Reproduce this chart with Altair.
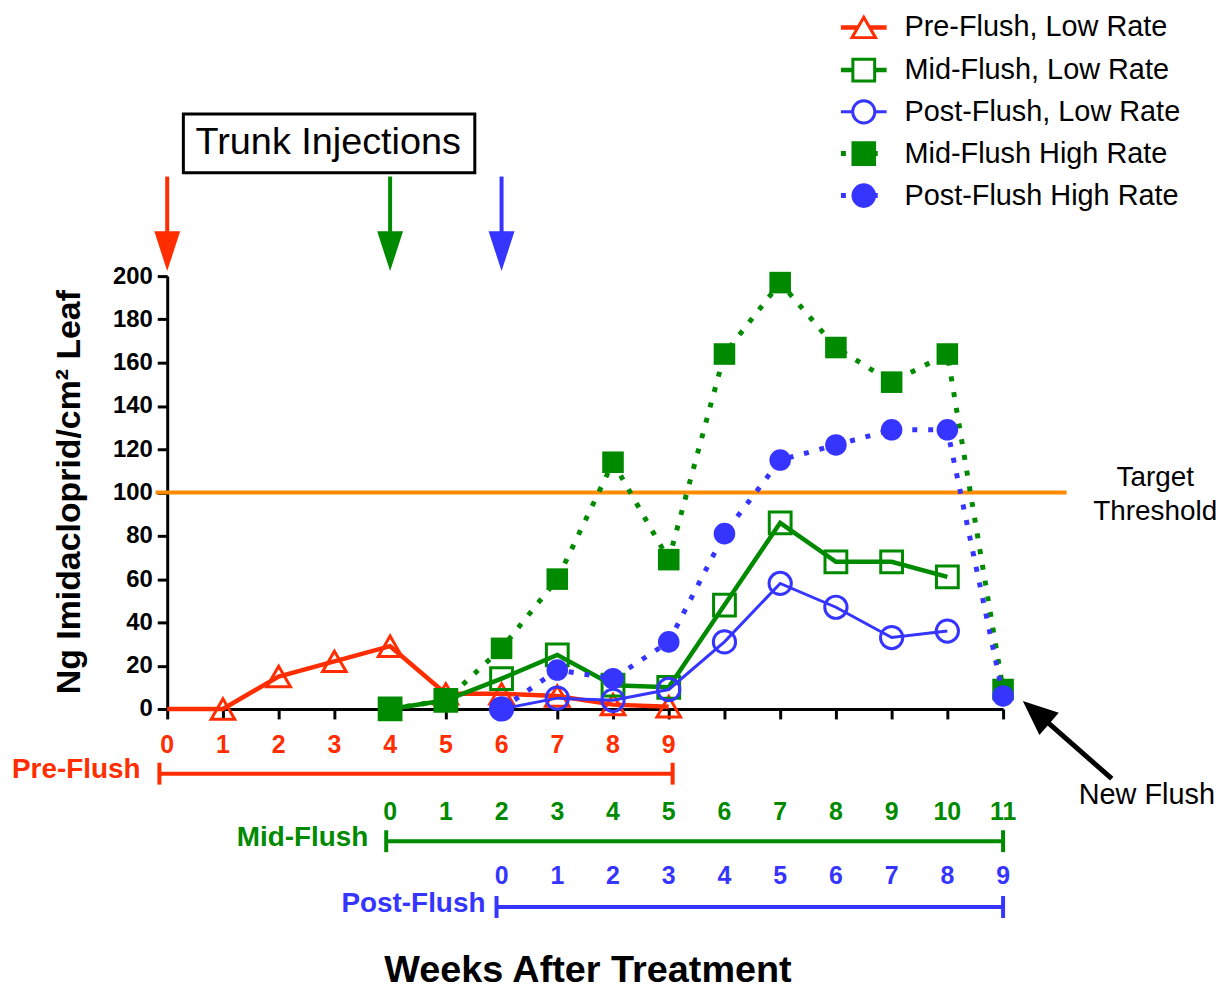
import altair as alt
import pandas as pd

# ---------------- data ----------------
pre_weeks = list(range(0, 10))
pre_low = [0, 0, 15, 22, 29, 7, 7, 6, 2, 1]
mid_low_weeks = list(range(4, 15))
mid_low = [0, 4, 14, 25, 11, 10, 48, 86, 68, 68, 61]
post_low_weeks = list(range(6, 15))
post_low = [0, 5, 4, 9, 31, 58, 47, 33, 36]
mid_high_weeks = list(range(4, 16))
mid_high = [0, 4, 28, 60, 114, 69, 164, 197, 167, 151, 164, 9]
post_high_weeks = list(range(6, 16))
post_high = [0, 18, 14, 31, 81, 115, 122, 129, 129, 6]

series_names = ["Pre-Flush, Low Rate", "Mid-Flush, Low Rate", "Post-Flush, Low Rate",
                "Mid-Flush High Rate", "Post-Flush High Rate"]
series_weeks = [pre_weeks, mid_low_weeks, post_low_weeks, mid_high_weeks, post_high_weeks]
series_values = [pre_low, mid_low, post_low, mid_high, post_high]

y_ticks = list(range(0, 201, 20))
x_ticks = list(range(0, 16))
threshold = 100

pre_row_weeks = list(range(0, 10))
pre_row_labels = [str(i) for i in range(0, 10)]
mid_row_weeks = list(range(4, 16))
mid_row_labels = [str(i) for i in range(0, 12)]
post_row_weeks = list(range(6, 16))
post_row_labels = [str(i) for i in range(0, 10)]

injection_weeks = [0, 4, 6]

# ---------------- styles ----------------
RED = "#ff2d00"
GREEN = "#008a00"
BLUE = "#3535ff"
ORANGE = "#ff8c00"
FONT = "Liberation Sans"

styles = [
    dict(color=RED, shape="triangle-up", filled=False, dash=None, lw=4.5, size=560),
    dict(color=GREEN, shape="square", filled=False, dash=None, lw=4.5, size=480),
    dict(color=BLUE, shape="circle", filled=False, dash=None, lw=3, size=500),
    dict(color=GREEN, shape="square", filled=True, dash=[5, 11], lw=5, size=470),
    dict(color=BLUE, shape="circle", filled=True, dash=[5, 11], lw=5, size=470),
]
injection_colors = [RED, GREEN, BLUE]

XS = alt.Scale(domain=[0, 15], nice=False, zero=False)
YS = alt.Scale(domain=[0, 200], nice=False, zero=False)

x_axis = alt.Axis(values=x_ticks, labels=False, ticks=True, tickSize=10, tickWidth=3,
                  tickColor="black", domainColor="black", domainWidth=3, grid=False, title=None)
y_axis = alt.Axis(values=y_ticks, labelFont=FONT, labelFontWeight="bold", labelFontSize=24,
                  labelColor="black", labelPadding=5, labelOverlap=False, tickSize=10,
                  tickWidth=3, tickColor="black", domainColor="black", domainWidth=3,
                  grid=False, title=None)


def X(f="x"):
    return alt.X(f"{f}:Q", scale=XS, axis=x_axis, title=None)


def Y(f="y"):
    return alt.Y(f"{f}:Q", scale=YS, axis=y_axis, title=None)


layers = []

# threshold line
thr_df = pd.DataFrame({"x": [-0.21], "x2": [16.14], "y": [threshold]})
layers.append(alt.Chart(thr_df).mark_rule(color=ORANGE, strokeWidth=4).encode(
    x=X("x"), x2="x2:Q", y=Y("y")))

# data series
for i, (name, wk, vals, st) in enumerate(zip(series_names, series_weeks, series_values, styles)):
    df = pd.DataFrame({"x": wk, "y": vals})
    lkw = dict(color=st["color"], strokeWidth=st["lw"])
    if st["dash"]:
        lkw["strokeDash"] = st["dash"]
    layers.append(alt.Chart(df).mark_line(**lkw).encode(x=X(), y=Y()))
    pts = alt.Chart(df)
    if i == 0:
        pts = pts.transform_filter("datum.x > 0")
    layers.append(pts.mark_point(shape=st["shape"], filled=st["filled"], size=st["size"],
                                 color=st["color"], strokeWidth=3, opacity=1).encode(x=X(), y=Y()))

# legend (top right)
leg_rows = [314.9, 295.2, 275.9, 256.6, 237.2]
for name, st, ry in zip(series_names, styles, leg_rows):
    ldf = pd.DataFrame({"x": [12.09], "x2": [12.91], "y": [ry], "xm": [12.5], "xt": [13.23], "t": [name]})
    lkw = dict(color=st["color"], strokeWidth=st["lw"])
    if st["dash"]:
        lkw["strokeDash"] = st["dash"]
    layers.append(alt.Chart(ldf).mark_rule(**lkw).encode(x=X("x"), x2="x2:Q", y=Y("y")))
    layers.append(alt.Chart(ldf).mark_point(shape=st["shape"], filled=True, size=st["size"],
                                            stroke=st["color"], strokeWidth=3, opacity=1,
                                            fill=st["color"] if st["filled"] else "white").encode(
        x=X("xm"), y=Y("y")))
    layers.append(alt.Chart(ldf).mark_text(align="left", baseline="middle", font=FONT, fontSize=29,
                                           color="black").encode(x=X("xt"), y=Y("y"), text="t:N"))

# Trunk injections box + arrows
box_df = pd.DataFrame({"x": [0.29], "x2": [5.52], "y": [274.9], "y2": [247.8],
                       "xt": [2.89], "yt": [261.4], "t": ["Trunk Injections"]})
layers.append(alt.Chart(box_df).mark_rect(filled=False, color="black", strokeWidth=3).encode(
    x=X("x"), x2="x2:Q", y=Y("y"), y2="y2:Q"))
layers.append(alt.Chart(box_df).mark_text(align="center", baseline="middle", font=FONT, fontSize=38,
                                          color="black").encode(x=X("xt"), y=Y("yt"), text="t:N"))
for wk, col in zip(injection_weeks, injection_colors):
    adf = pd.DataFrame({"x": [wk], "y": [246.0], "y2": [216.0], "yh": [211.5]})
    layers.append(alt.Chart(adf).mark_rule(color=col, strokeWidth=4).encode(x=X("x"), y=Y("y"), y2="y2:Q"))
    layers.append(alt.Chart(adf).mark_point(shape="M-0.65,-1L0.65,-1L0,1Z", filled=True, size=1600,
                                            color=col, opacity=1).encode(x=X("x"), y=Y("yh")))

# target threshold text
tt_df = pd.DataFrame({"x": [17.73, 17.73], "y": [106.7, 91.0], "t": ["Target", "Threshold"]})
layers.append(alt.Chart(tt_df).mark_text(align="center", baseline="middle", font=FONT, fontSize=28,
                                         color="black").encode(x=X("x"), y=Y("y"), text="t:N"))

# New Flush arrow + text
nf_df = pd.DataFrame({"x": [16.95], "y": [-32.2], "x2": [15.79], "y2": [-6.0],
                      "xh": [15.59], "yh": [-1.6], "xt": [17.58], "yt": [-40.0], "t": ["New Flush"]})
layers.append(alt.Chart(nf_df).mark_rule(color="black", strokeWidth=5).encode(
    x=X("x"), y=Y("y"), x2="x2:Q", y2="y2:Q"))
layers.append(alt.Chart(nf_df).mark_point(shape="M-0.85,-1L0.85,-1L0,1Z", filled=True, size=1225,
                                          angle=131, color="black", opacity=1).encode(x=X("xh"), y=Y("yh")))
layers.append(alt.Chart(nf_df).mark_text(align="center", baseline="middle", font=FONT, fontSize=29,
                                         color="black").encode(x=X("xt"), y=Y("yt"), text="t:N"))

# week rows under the axis
rows = [
    (pre_row_weeks, pre_row_labels, RED, -16.5, -29.9, -0.14, 9.07, "Pre-Flush", -0.48, -28.3),
    (mid_row_weeks, mid_row_labels, GREEN, -47.6, -61.1, 3.93, 15.0, "Mid-Flush", 3.61, -59.8),
    (post_row_weeks, post_row_labels, BLUE, -77.0, -91.5, 5.91, 15.0, "Post-Flush", 5.71, -90.1),
]
cap = 5.06
for wks, labs, col, ylab, ybar, xa, xb, name, xn, yn in rows:
    ndf = pd.DataFrame({"x": wks, "y": [ylab] * len(wks), "t": labs})
    layers.append(alt.Chart(ndf).mark_text(align="center", baseline="middle", font=FONT,
                                           fontWeight="bold", fontSize=25, color=col).encode(
        x=X("x"), y=Y("y"), text="t:N"))
    bdf = pd.DataFrame({"x": [xa], "x2": [xb], "y": [ybar]})
    layers.append(alt.Chart(bdf).mark_rule(color=col, strokeWidth=4).encode(x=X("x"), x2="x2:Q", y=Y("y")))
    cdf = pd.DataFrame({"x": [xa, xb], "y": [ybar + cap] * 2, "y2": [ybar - cap] * 2})
    layers.append(alt.Chart(cdf).mark_rule(color=col, strokeWidth=4).encode(x=X("x"), y=Y("y"), y2="y2:Q"))
    tdf = pd.DataFrame({"x": [xn], "y": [yn], "t": [name]})
    layers.append(alt.Chart(tdf).mark_text(align="right", baseline="middle", font=FONT,
                                           fontWeight="bold", fontSize=28, color=col).encode(
        x=X("x"), y=Y("y"), text="t:N"))

# axis titles
ytitle_df = pd.DataFrame({"x": [-1.75], "y": [100.2], "t": ["Ng Imidacloprid/cm² Leaf"]})
layers.append(alt.Chart(ytitle_df).mark_text(align="center", baseline="middle", angle=270, font=FONT,
                                             fontWeight="bold", fontSize=34, color="black").encode(
    x=X("x"), y=Y("y"), text="t:N"))
xtitle_df = pd.DataFrame({"x": [7.55], "y": [-121.0], "t": ["Weeks After Treatment"]})
layers.append(alt.Chart(xtitle_df).mark_text(align="center", baseline="middle", font=FONT,
                                             fontWeight="bold", fontSize=38, color="black").encode(
    x=X("x"), y=Y("y"), text="t:N"))

chart = alt.layer(*layers).properties(
    width=840, height=435,
    autosize=alt.AutoSizeParams(type="none"),
    padding={"left": 160, "top": 267, "right": 219, "bottom": 283},
    background="white",
).configure_view(stroke=None)

chart.save("out.html", embed_options={"renderer": "svg", "actions": False})
